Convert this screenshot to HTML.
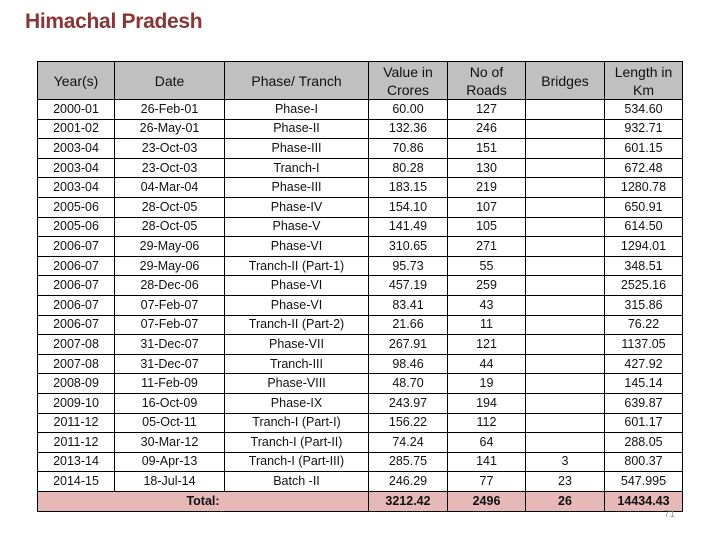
<!DOCTYPE html>
<html><head><meta charset="utf-8"><style>
body{margin:0;width:720px;height:540px;background:#fff;position:relative;overflow:hidden;font-family:"Liberation Sans Narrow","Liberation Sans",sans-serif;}
#title{position:absolute;left:25px;top:10px;font-size:21px;font-weight:bold;color:#8b3434;letter-spacing:-0.3px;}
table{position:absolute;left:37px;top:61px;border-collapse:collapse;table-layout:fixed;}
td,th{border:1px solid #000;padding:0;text-align:center;font-size:12.5px;color:#111;line-height:13px;overflow:hidden;white-space:nowrap;}
th{background:#c0c0c0;font-weight:normal;font-size:14px;height:37px;line-height:18px;}
td{height:18.6px;}
tr.total td{background:#e6b8b7;font-weight:bold;height:19px;}
#pg{position:absolute;left:664px;top:509px;font-size:10px;color:#999;}
</style></head><body>
<div id="title">Himachal Pradesh</div>
<table id="t">
<colgroup><col style="width:77px"><col style="width:110px"><col style="width:144px"><col style="width:79px"><col style="width:78px"><col style="width:79px"><col style="width:78px"></colgroup>
<tr>
<th>Year(s)</th>
<th>Date</th>
<th>Phase/ Tranch</th>
<th>Value in<br>Crores</th>
<th>No of<br>Roads</th>
<th>Bridges</th>
<th>Length in<br>Km</th>
</tr>
</table>
<div id="pg">71</div>
<script>
const years=["2000-01","2001-02","2003-04","2003-04","2003-04","2005-06","2005-06","2006-07","2006-07","2006-07","2006-07","2006-07","2007-08","2007-08","2008-09","2009-10","2011-12","2011-12","2013-14","2014-15"];
const dates=["26-Feb-01","26-May-01","23-Oct-03","23-Oct-03","04-Mar-04","28-Oct-05","28-Oct-05","29-May-06","29-May-06","28-Dec-06","07-Feb-07","07-Feb-07","31-Dec-07","31-Dec-07","11-Feb-09","16-Oct-09","05-Oct-11","30-Mar-12","09-Apr-13","18-Jul-14"];
const phases=["Phase-I","Phase-II","Phase-III","Tranch-I","Phase-III","Phase-IV","Phase-V","Phase-VI","Tranch-II (Part-1)","Phase-VI","Phase-VI","Tranch-II (Part-2)","Phase-VII","Tranch-III","Phase-VIII","Phase-IX","Tranch-I (Part-I)","Tranch-I (Part-II)","Tranch-I (Part-III)","Batch -II"];
const values=["60.00","132.36","70.86","80.28","183.15","154.10","141.49","310.65","95.73","457.19","83.41","21.66","267.91","98.46","48.70","243.97","156.22","74.24","285.75","246.29"];
const roads=["127","246","151","130","219","107","105","271","55","259","43","11","121","44","19","194","112","64","141","77"];
const bridges=["","","","","","","","","","","","","","","","","","","3","23"];
const lengths=["534.60","932.71","601.15","672.48","1280.78","650.91","614.50","1294.01","348.51","2525.16","315.86","76.22","1137.05","427.92","145.14","639.87","601.17","288.05","800.37","547.995"];
const totals=["3212.42","2496","26","14434.43"];
const t=document.getElementById('t');
const names=['year-cell','date-cell','phase-cell','value-cell','roads-cell','bridges-cell','length-cell'];
for(let i=0;i<years.length;i++){
  const tr=document.createElement('tr');
  
  
  const vals=[years[i],dates[i],phases[i],values[i],roads[i],bridges[i],lengths[i]];
  vals.forEach((v,j)=>{
    const td=document.createElement('td');
    
    
    td.textContent=v;
    tr.appendChild(td);
  });
  t.appendChild(tr);
}
const tr=document.createElement('tr');
tr.className='total';


const lab=document.createElement('td');
lab.colSpan=3;


lab.textContent='Total:';
tr.appendChild(lab);
totals.forEach(v=>{
  const td=document.createElement('td');
  
  
  td.textContent=v;
  tr.appendChild(td);
});
t.appendChild(tr);
</script>
</body></html>
